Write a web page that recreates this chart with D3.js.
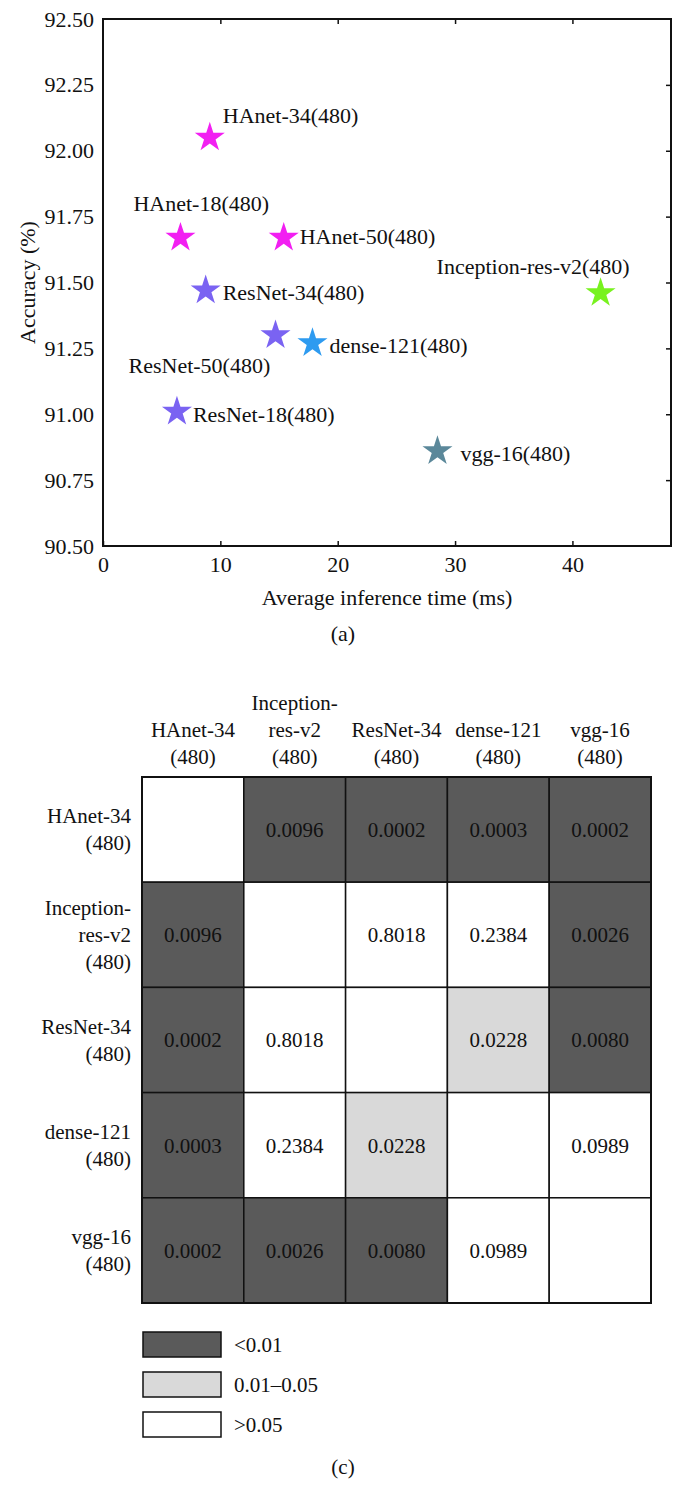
<!DOCTYPE html>
<html><head><meta charset="utf-8">
<script src="https://cdn.jsdelivr.net/npm/d3@7"></script>
<style>
html,body{margin:0;padding:0;background:#fff;}
svg text{font-family:"Liberation Serif","DejaVu Serif",serif;fill:#111;}
</style></head>
<body><svg id="c" width="686" height="1510"></svg>
<script>
// ---------- scatter data ----------
const models = ["HAnet-34(480)","HAnet-18(480)","HAnet-50(480)","ResNet-34(480)","Inception-res-v2(480)","ResNet-50(480)","dense-121(480)","ResNet-18(480)","vgg-16(480)"];
const inferenceTime = [9.1, 6.6, 15.4, 8.75, 42.4, 14.7, 17.85, 6.3, 28.5];
const accuracy = [92.05, 91.67, 91.67, 91.47, 91.46, 91.30, 91.27, 91.01, 90.86];
const starColors = ["#f21ff2","#f21ff2","#f21ff2","#7a63f2","#78f21f","#7a63f2","#2e9bf0","#7a63f2","#5b889a"];
// label offsets (dx, dy) relative to star, in px
const labelDx = [13, -47, 16, 17, -164, -147, 17, 16, 23];
const labelDy = [-22, -34, -1, 2, -27, 30, 2, 3, 2];
const xTicks = [0, 10, 20, 30, 40];
const yTicks = [90.50, 90.75, 91.00, 91.25, 91.50, 91.75, 92.00, 92.25, 92.50];

// ---------- p-value matrix ----------
const netNames = [["HAnet-34","(480)"],["Inception-","res-v2","(480)"],["ResNet-34","(480)"],["dense-121","(480)"],["vgg-16","(480)"]];
const pRow0 = [null, 0.0096, 0.0002, 0.0003, 0.0002];
const pRow1 = [0.0096, null, 0.8018, 0.2384, 0.0026];
const pRow2 = [0.0002, 0.8018, null, 0.0228, 0.0080];
const pRow3 = [0.0003, 0.2384, 0.0228, null, 0.0989];
const pRow4 = [0.0002, 0.0026, 0.0080, 0.0989, null];
const pMatrix = [pRow0, pRow1, pRow2, pRow3, pRow4];
const legendLabels = ["<0.01", "0.01\u20130.05", ">0.05"];
const bandColors = ["#5a5a5a", "#d9d9d9", "#ffffff"];

const svg = d3.select("#c");
const FS = 22;
const FH = 21;

// ---------- scatter ----------
const P = {l:103, r:671, t:19, b:546};
const x = d3.scaleLinear().domain([0, 48.4]).range([P.l, P.r]);
const y = d3.scaleLinear().domain([90.5, 92.5]).range([P.b, P.t]);
const g1 = svg.append("g");

const ax = g1.append("g").attr("transform", `translate(0,${P.b})`)
  .call(d3.axisBottom(x).tickValues(xTicks).tickSize(-5).tickPadding(10).tickFormat(d3.format("d")));
const axT = g1.append("g").attr("transform", `translate(0,${P.t})`)
  .call(d3.axisTop(x).tickValues(xTicks.slice(1)).tickSize(-5).tickFormat(""));
const ay = g1.append("g").attr("transform", `translate(${P.l},0)`)
  .call(d3.axisLeft(y).tickValues(yTicks).tickSize(0).tickPadding(9).tickFormat(d3.format(".2f")));
const ayR = g1.append("g").attr("transform", `translate(${P.r},0)`)
  .call(d3.axisRight(y).tickValues(yTicks.slice(1,-1)).tickSize(-5).tickFormat(""));
[ax, axT, ay, ayR].forEach(a => {
  a.select(".domain").remove();
  a.selectAll("line").attr("stroke","#111").attr("stroke-width",1.5);
  a.selectAll("text").attr("font-size", FS).attr("fill","#111")
   .style("font-family",'"Liberation Serif",serif');
});
g1.append("rect").attr("x",P.l).attr("y",P.t).attr("width",P.r-P.l).attr("height",P.b-P.t)
  .attr("fill","none").attr("stroke","#111").attr("stroke-width",2);

g1.append("text").attr("x",(P.l+P.r)/2).attr("y",597).attr("dy","0.35em")
  .attr("text-anchor","middle").attr("font-size",FS).text("Average inference time (ms)");
g1.append("text").attr("transform",`translate(27,${(P.t+P.b)/2}) rotate(-90)`).attr("dy","0.35em")
  .attr("text-anchor","middle").attr("font-size",FS).text("Accuracy (%)");
g1.append("text").attr("x",343).attr("y",633).attr("dy","0.35em")
  .attr("text-anchor","middle").attr("font-size",FS).text("(a)");

const star = d3.symbol().type(d3.symbolStar).size(280);
const pts = models.map((m,i)=>({m, t:inferenceTime[i], a:accuracy[i], c:starColors[i], dx:labelDx[i], dy:labelDy[i]}));
g1.selectAll("path.star").data(pts).join("path").attr("class","star")
  .attr("d", star).attr("fill", d=>d.c)
  .attr("transform", d=>`translate(${x(d.t)},${y(d.a)})`);
g1.selectAll("text.lbl").data(pts).join("text").attr("class","lbl")
  .attr("x", d=>x(d.t)+d.dx).attr("y", d=>y(d.a)+d.dy).attr("dy","0.35em")
  .attr("font-size",FS).text(d=>d.m);

// ---------- heatmap ----------
const H = {l:142, r:651, t:777, b:1303};
const idx = d3.range(netNames.length);
const cx = d3.scaleBand().domain(idx).range([H.l, H.r]);
const cy = d3.scaleBand().domain(idx).range([H.t, H.b]);
const color = d3.scaleThreshold().domain([0.01, 0.05]).range(bandColors);
const g2 = svg.append("g");
const cells = [];
pMatrix.forEach((row,i)=>row.forEach((v,j)=>cells.push({i,j,v})));
g2.selectAll("rect.cell").data(cells).join("rect").attr("class","cell")
  .attr("x", d=>cx(d.j)).attr("y", d=>cy(d.i))
  .attr("width", cx.bandwidth()).attr("height", cy.bandwidth())
  .attr("fill", d=> d.v==null ? "#fff" : color(d.v))
  .attr("stroke","#111").attr("stroke-width",1.5);
g2.selectAll("text.val").data(cells.filter(d=>d.v!=null)).join("text").attr("class","val")
  .attr("x", d=>cx(d.j)+cx.bandwidth()/2).attr("y", d=>cy(d.i)+cy.bandwidth()/2)
  .attr("dy","0.35em").attr("text-anchor","middle").attr("font-size",FH)
  .text(d=>d3.format(".4f")(d.v));
g2.append("rect").attr("x",H.l).attr("y",H.t).attr("width",H.r-H.l).attr("height",H.b-H.t)
  .attr("fill","none").attr("stroke","#111").attr("stroke-width",2);

const LH = 27;
// column headers (bottom-aligned)
idx.forEach(j=>{
  const lines = netNames[j];
  lines.forEach((s,k)=>{
    g2.append("text").attr("x", cx(j)+cx.bandwidth()/2)
      .attr("y", 757 - (lines.length-1-k)*LH).attr("dy","0.35em")
      .attr("text-anchor","middle").attr("font-size",FH).text(s);
  });
});
// row headers (centered)
idx.forEach(i=>{
  const lines = netNames[i];
  const c = cy(i)+cy.bandwidth()/2;
  lines.forEach((s,k)=>{
    g2.append("text").attr("x", 131)
      .attr("y", c + (k-(lines.length-1)/2)*LH).attr("dy","0.35em")
      .attr("text-anchor","end").attr("font-size",FH).text(s);
  });
});

// legend
const lg = svg.append("g");
legendLabels.forEach((t,k)=>{
  lg.append("rect").attr("x",143).attr("y",1332+k*40).attr("width",78).attr("height",25)
    .attr("fill",bandColors[k]).attr("stroke","#111").attr("stroke-width",1.5);
  lg.append("text").attr("x",234).attr("y",1332+k*40+12.5).attr("dy","0.35em")
    .attr("font-size",FH).text(t);
});
lg.append("text").attr("x",343).attr("y",1467).attr("dy","0.35em")
  .attr("text-anchor","middle").attr("font-size",FH).text("(c)");
</script></body></html>
